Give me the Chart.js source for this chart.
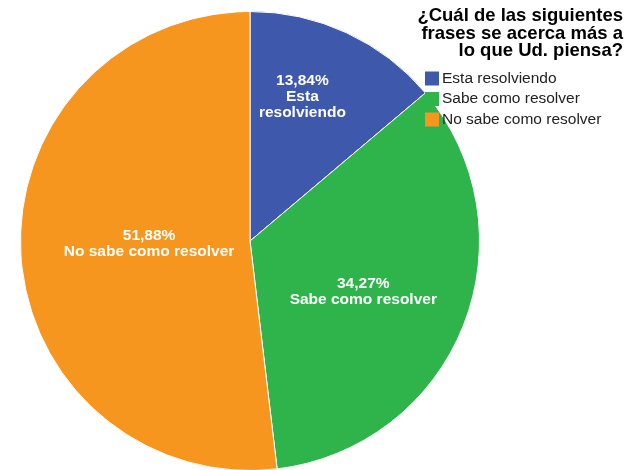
<!DOCTYPE html>
<html>
<head>
<meta charset="utf-8">
<script src="https://cdn.jsdelivr.net/npm/chart.js@4"></script>
<style>
  html, body { margin: 0; padding: 0; background: #fff; overflow: hidden; }
  canvas { display: block; }
</style>
</head>
<body>
<canvas id="pieChart" width="634" height="480"></canvas>
<script>
// Datos del gráfico
const categorias = ['Esta resolviendo', 'Sabe como resolver', 'No sabe como resolver'];
const etiquetas = [['Esta', 'resolviendo'], ['Sabe como resolver'], ['No sabe como resolver']];
const porcentajes = [13.84, 34.27, 51.88];
const tituloLineas = ['¿Cuál de las siguientes', 'frases se acerca más a', 'lo que Ud. piensa?'];

const colores = ['#3e58ab', '#2fb44b', '#f7961f'];
const FONT = '"Liberation Sans", Arial, sans-serif';

// posición de cada etiqueta: radio relativo y giro en grados
const radioEtiqueta = [0.67, 0.54, 0.44];
const giroEtiqueta = [-5, 2.4, 1.7];

// Etiquetas blancas dentro de las porciones
const etiquetasPlugin = {
    id: 'etiquetas',
    afterDatasetsDraw(chart) {
        const ctx = chart.ctx;
        const arcs = chart.getDatasetMeta(0).data;
        ctx.save();
        ctx.fillStyle = '#ffffff';
        ctx.font = 'bold 15.5px ' + FONT;
        ctx.textAlign = 'center';
        ctx.textBaseline = 'middle';
        arcs.forEach((arc, i) => {
            const mid = (arc.startAngle + arc.endAngle) / 2 + giroEtiqueta[i] * Math.PI / 180;
            const r = arc.outerRadius * radioEtiqueta[i];
            const cx = arc.x + Math.cos(mid) * r;
            const cy = arc.y + Math.sin(mid) * r;
            const lineas = [porcentajes[i].toFixed(2).replace('.', ',') + '%'].concat(etiquetas[i]);
            const lh = 16;
            const y0 = cy - (lineas.length - 1) * lh / 2;
            lineas.forEach((t, k) => ctx.fillText(t, cx, y0 + k * lh));
        });
        ctx.restore();
    }
};

// Título y leyenda a la derecha
const tituloLeyendaPlugin = {
    id: 'tituloLeyenda',
    afterDraw(chart) {
        const ctx = chart.ctx;
        ctx.save();
        ctx.fillStyle = '#000000';
        ctx.font = 'bold 18.5px ' + FONT;
        ctx.textAlign = 'right';
        ctx.textBaseline = 'alphabetic';
        tituloLineas.forEach((t, k) => ctx.fillText(t, 623, 21 + k * 17.5));

        ctx.font = '15.5px ' + FONT;
        ctx.textAlign = 'left';
        ctx.textBaseline = 'middle';
        categorias.forEach((c, i) => {
            const y = 78.5 + i * 20.5;
            ctx.fillStyle = colores[i];
            ctx.fillRect(425, y - 7, 14, 14);
            ctx.fillStyle = '#222222';
            ctx.fillText(c, 442, y);
        });
        ctx.restore();
    }
};

const ctx = document.getElementById('pieChart').getContext('2d');
const pieChart = new Chart(ctx, {
    type: 'pie',
    data: {
        labels: categorias,
        datasets: [{
            data: porcentajes,
            backgroundColor: colores,
            borderColor: '#ffffff',
            borderWidth: 1
        }]
    },
    options: {
        responsive: false,
        animation: false,
        layout: {
            padding: { left: 20, top: 11, right: 154, bottom: 9 }
        },
        plugins: {
            legend: { display: false },
            title: { display: false },
            tooltip: { enabled: false }
        }
    },
    plugins: [etiquetasPlugin, tituloLeyendaPlugin]
});
</script>
</body>
</html>
